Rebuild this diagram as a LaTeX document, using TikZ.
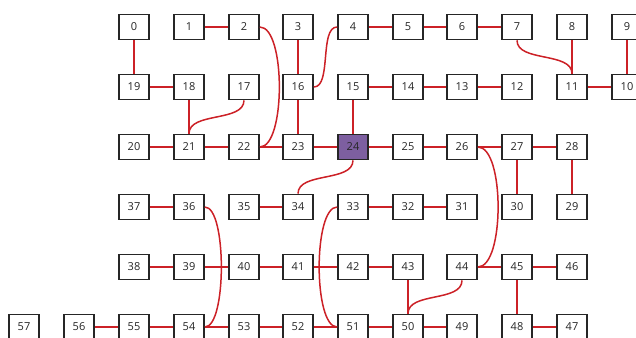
\documentclass[tikz,border=0pt]{standalone}
\usepackage{fontspec}
\setmainfont{Open Sans}
\begin{document}
\begin{tikzpicture}[x=1pt,y=-1pt,
  box/.style={draw=black!85,line width=1.7pt,fill=white,minimum width=30pt,minimum height=25pt,inner sep=0pt,font=\fontsize{11}{13}\selectfont,text=black!85},
  hl/.style={box,fill=hlpurple},
  edge/.style={draw=edgered,line width=1.5pt}]
\definecolor{edgered}{HTML}{CC2127}
\definecolor{hlpurple}{HTML}{7D5FA0}
\useasboundingbox (0,0) rectangle (636,337);
\def\cA{24}\def\cB{79}\def\cC{134}\def\cD{189}\def\cE{244}\def\cF{298}
\def\cG{353}\def\cH{408}\def\cI{462}\def\cJ{517}\def\cK{572}\def\cL{627}
\def\rA{27}\def\rB{87}\def\rC{147}\def\rD{207}\def\rE{267}\def\rF{327}
% row 0
\node[box] (n0) at (\cC,\rA) {0};
\node[box] (n1) at (\cD,\rA) {1};
\node[box] (n2) at (\cE,\rA) {2};
\node[box] (n3) at (\cF,\rA) {3};
\node[box] (n4) at (\cG,\rA) {4};
\node[box] (n5) at (\cH,\rA) {5};
\node[box] (n6) at (\cI,\rA) {6};
\node[box] (n7) at (\cJ,\rA) {7};
\node[box] (n8) at (\cK,\rA) {8};
\node[box] (n9) at (\cL,\rA) {9};
% row 1
\node[box] (n19) at (\cC,\rB) {19};
\node[box] (n18) at (\cD,\rB) {18};
\node[box] (n17) at (\cE,\rB) {17};
\node[box] (n16) at (\cF,\rB) {16};
\node[box] (n15) at (\cG,\rB) {15};
\node[box] (n14) at (\cH,\rB) {14};
\node[box] (n13) at (\cI,\rB) {13};
\node[box] (n12) at (\cJ,\rB) {12};
\node[box] (n11) at (\cK,\rB) {11};
\node[box] (n10) at (\cL,\rB) {10};
% row 2
\node[box] (n20) at (\cC,\rC) {20};
\node[box] (n21) at (\cD,\rC) {21};
\node[box] (n22) at (\cE,\rC) {22};
\node[box] (n23) at (\cF,\rC) {23};
\node[hl]  (n24) at (\cG,\rC) {24};
\node[box] (n25) at (\cH,\rC) {25};
\node[box] (n26) at (\cI,\rC) {26};
\node[box] (n27) at (\cJ,\rC) {27};
\node[box] (n28) at (\cK,\rC) {28};
% row 3
\node[box] (n37) at (\cC,\rD) {37};
\node[box] (n36) at (\cD,\rD) {36};
\node[box] (n35) at (\cE,\rD) {35};
\node[box] (n34) at (\cF,\rD) {34};
\node[box] (n33) at (\cG,\rD) {33};
\node[box] (n32) at (\cH,\rD) {32};
\node[box] (n31) at (\cI,\rD) {31};
\node[box] (n30) at (\cJ,\rD) {30};
\node[box] (n29) at (\cK,\rD) {29};
% row 4
\node[box] (n38) at (\cC,\rE) {38};
\node[box] (n39) at (\cD,\rE) {39};
\node[box] (n40) at (\cE,\rE) {40};
\node[box] (n41) at (\cF,\rE) {41};
\node[box] (n42) at (\cG,\rE) {42};
\node[box] (n43) at (\cH,\rE) {43};
\node[box] (n44) at (\cI,\rE) {44};
\node[box] (n45) at (\cJ,\rE) {45};
\node[box] (n46) at (\cK,\rE) {46};
% row 5
\node[box] (n57) at (\cA,\rF) {57};
\node[box] (n56) at (\cB,\rF) {56};
\node[box] (n55) at (\cC,\rF) {55};
\node[box] (n54) at (\cD,\rF) {54};
\node[box] (n53) at (\cE,\rF) {53};
\node[box] (n52) at (\cF,\rF) {52};
\node[box] (n51) at (\cG,\rF) {51};
\node[box] (n50) at (\cH,\rF) {50};
\node[box] (n49) at (\cI,\rF) {49};
\node[box] (n48) at (\cJ,\rF) {48};
\node[box] (n47) at (\cK,\rF) {47};
% edges
\path[edge]
  (n0) -- (n19)
  (n1) -- (n2)
  (n3) -- (n16)
  (n4) -- (n5) (n5) -- (n6) (n6) -- (n7)
  (n8) -- (n11) (n9) -- (n10) (n11) -- (n10)
  (n19) -- (n18) (n18) -- (n21)
  (n16) -- (n23) (n15) -- (n14) (n14) -- (n13) (n13) -- (n12) (n15) -- (n24)
  (n20) -- (n21) (n21) -- (n22) (n22) -- (n23) (n23) -- (n24) (n24) -- (n25) (n25) -- (n26) (n26) -- (n27) (n27) -- (n28)
  (n27) -- (n30) (n28) -- (n29)
  (n37) -- (n36) (n35) -- (n34) (n33) -- (n32) (n32) -- (n31)
  (n38) -- (n39) (n39) -- (n40) (n40) -- (n41) (n41) -- (n42) (n42) -- (n43) (n44) -- (n45) (n45) -- (n46)
  (n43) -- (n50) (n45) -- (n48)
  (n56) -- (n55) (n55) -- (n54) (n54) -- (n53) (n53) -- (n52) (n52) -- (n51) (n51) -- (n50) (n50) -- (n49) (n48) -- (n47);
\path[edge]
  (n2.east) .. controls +(26,0) and +(26,0) .. (n22.east)
  (n26.east) .. controls +(27,0) and +(27,0) .. (n44.east)
  (n36.east) .. controls +(22,0) and +(22,0) .. (n54.east)
  (n33.west) .. controls +(-24,0) and +(-24,0) .. (n51.west)
  (n4.west) .. controls +(-18,0) and +(18,0) .. (n16.east)
  (n7.south) .. controls +(0,22) and +(0,-22) .. (n11.north)
  (n17.south) .. controls +(0,22) and +(0,-22) .. (n21.north)
  (n24.south) .. controls +(0,22) and +(0,-22) .. (n34.north)
  (n44.south) .. controls +(0,22) and +(0,-22) .. (n50.north);
\end{tikzpicture}
\end{document}
